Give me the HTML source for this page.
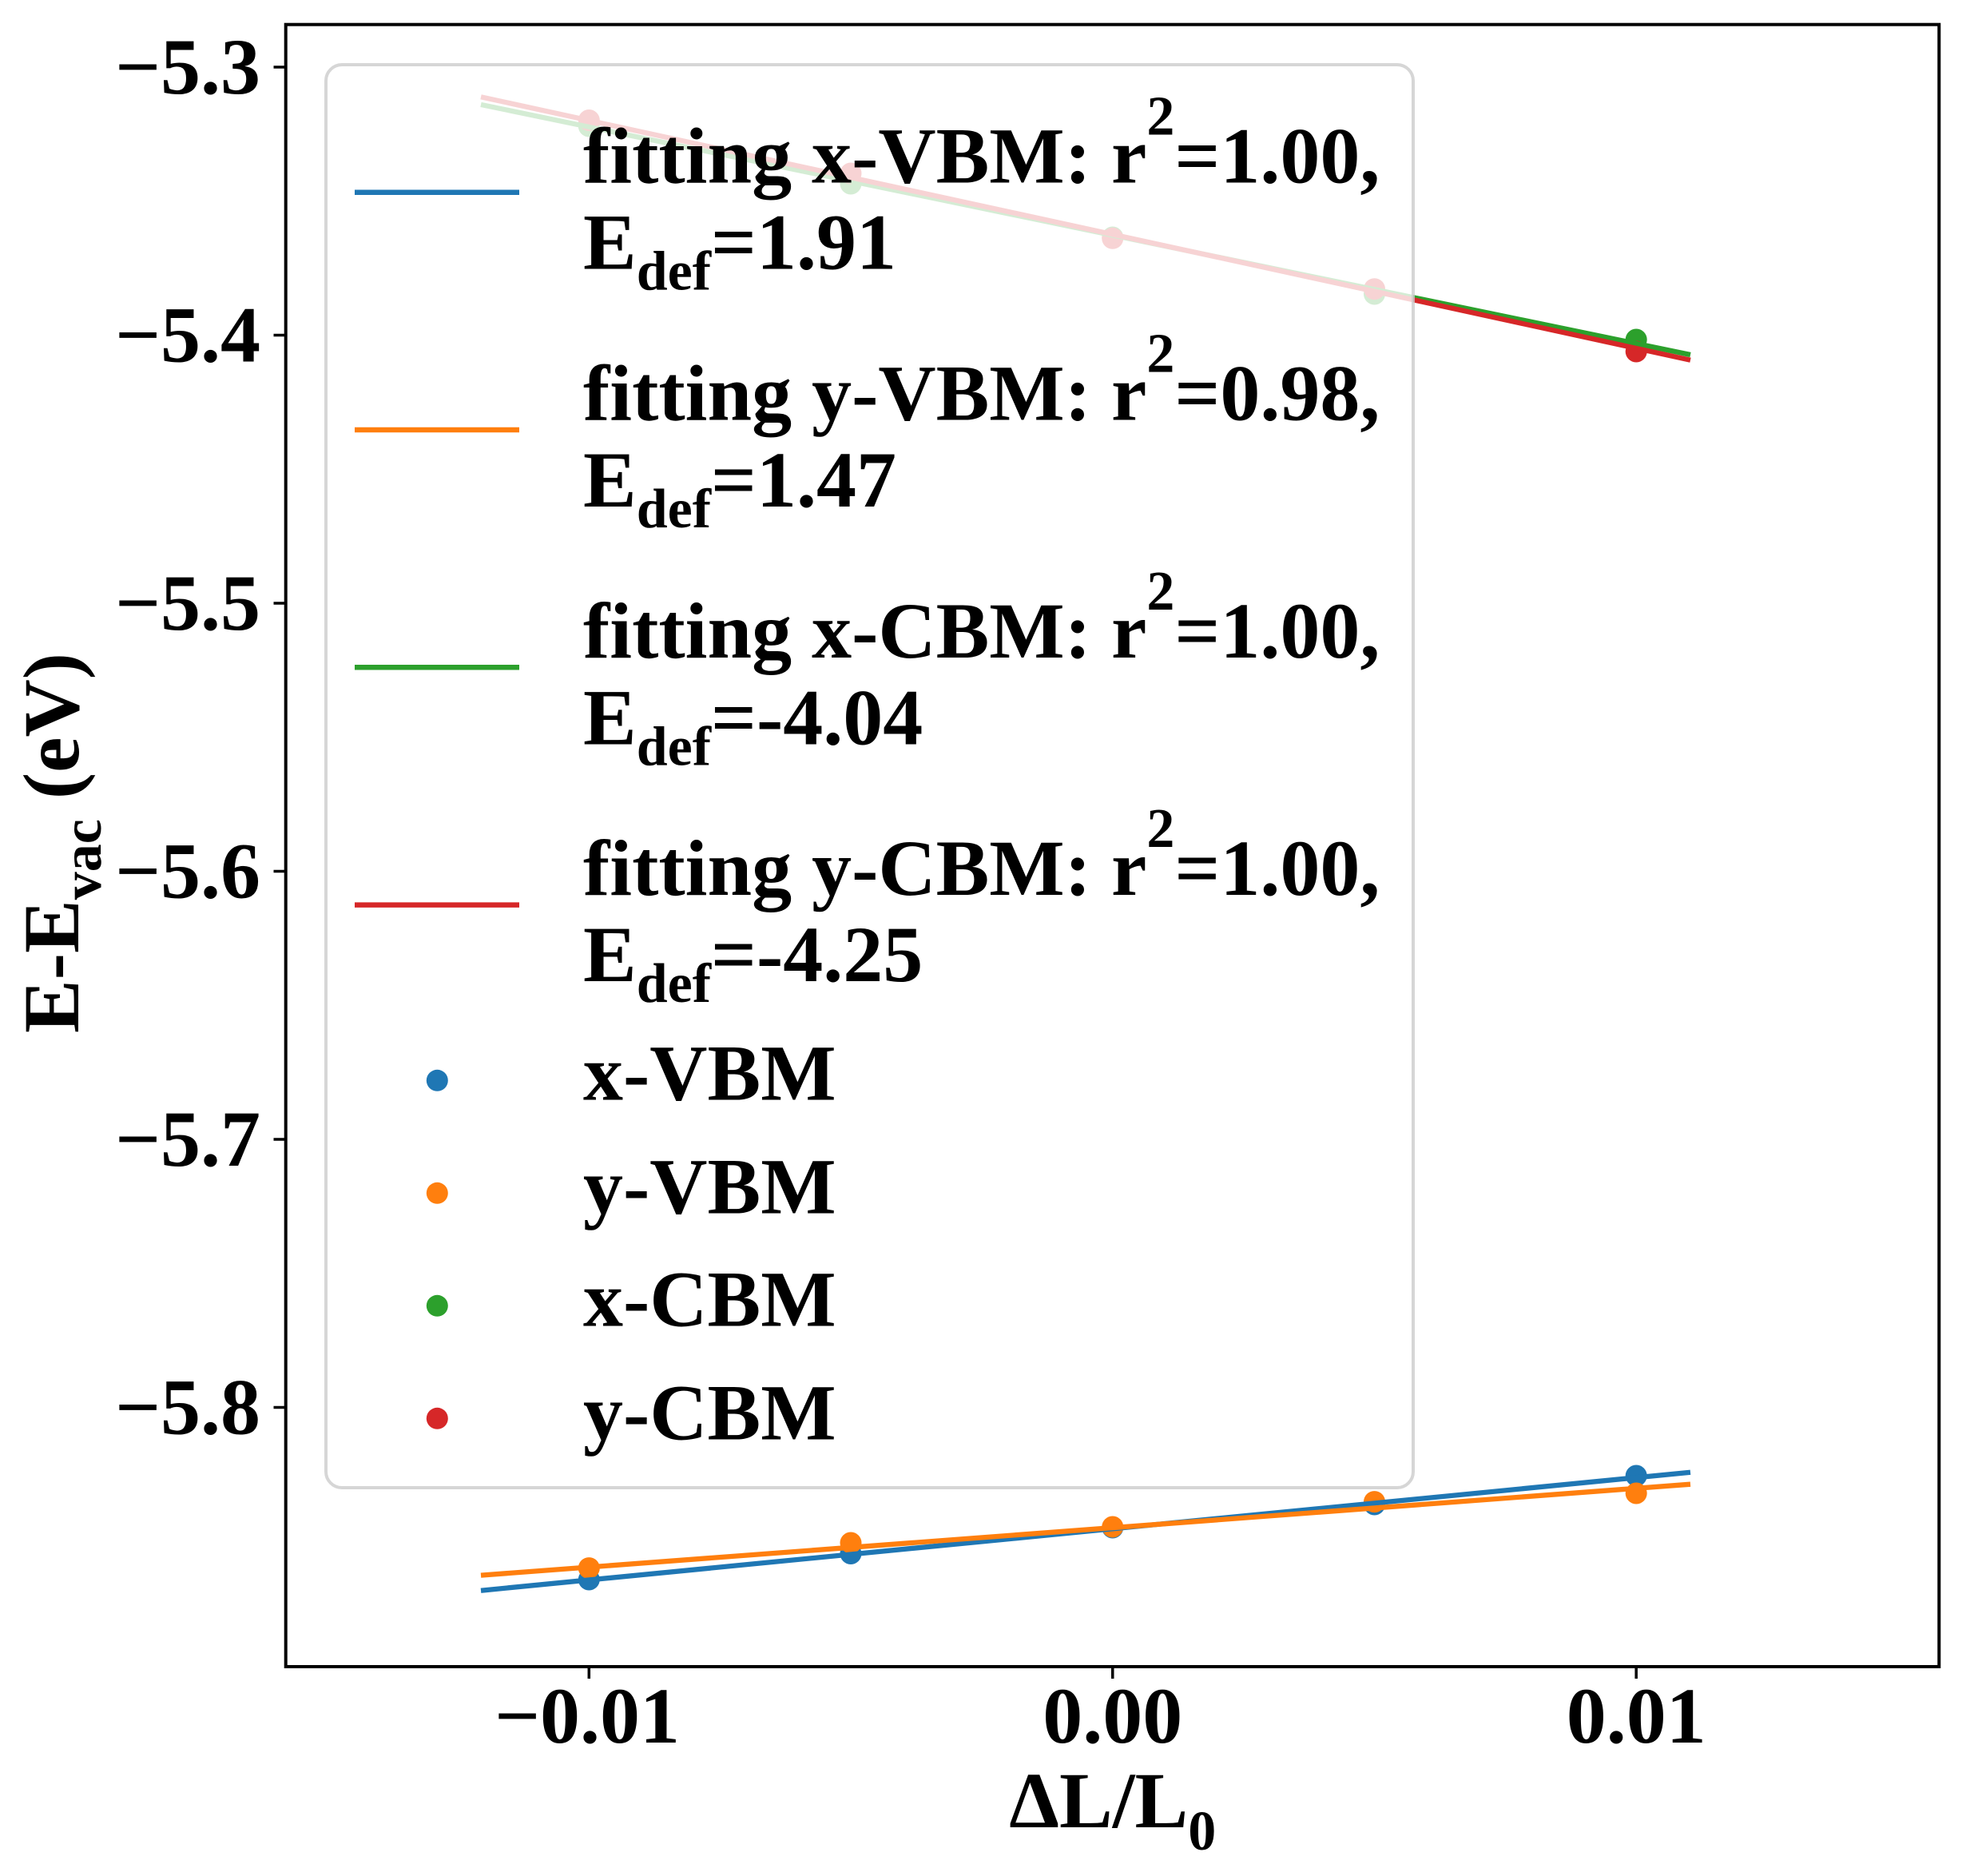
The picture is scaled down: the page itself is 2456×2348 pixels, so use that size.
<!DOCTYPE html>
<html>
<head>
<meta charset="utf-8">
<style>
  html, body { margin: 0; padding: 0; background: #ffffff; }
  svg { display: block; }
  text { font-family: "Liberation Serif", "Times New Roman", serif; font-weight: bold; fill: #000; }
</style>
</head>
<body>
<svg width="2456" height="2348" viewBox="0 0 2456 2348" xmlns="http://www.w3.org/2000/svg">
  <rect x="0" y="0" width="2456" height="2348" fill="#ffffff"/>

  <!-- scatter points (zorder 1) -->
  <g>
    <g fill="#1f77b4">
      <circle cx="737.3" cy="1977" r="13.5"/>
      <circle cx="1065" cy="1944.5" r="13.5"/>
      <circle cx="1392.75" cy="1912" r="13.5"/>
      <circle cx="1720.5" cy="1883" r="13.5"/>
      <circle cx="2048.2" cy="1847" r="13.5"/>
    </g>
    <g fill="#ff7f0e">
      <circle cx="737.3" cy="1962.6" r="13.5"/>
      <circle cx="1065" cy="1931" r="13.5"/>
      <circle cx="1392.75" cy="1911" r="13.5"/>
      <circle cx="1720.5" cy="1879.6" r="13.5"/>
      <circle cx="2048.2" cy="1869" r="13.5"/>
    </g>
    <g fill="#2ca02c">
      <circle cx="737.3" cy="158" r="13.5"/>
      <circle cx="1065" cy="230" r="13.5"/>
      <circle cx="1392.75" cy="297" r="13.5"/>
      <circle cx="1720.5" cy="368" r="13.5"/>
      <circle cx="2048.2" cy="425" r="13.5"/>
    </g>
    <g fill="#d62728">
      <circle cx="737.3" cy="150.5" r="13.5"/>
      <circle cx="1065" cy="217" r="13.5"/>
      <circle cx="1392.75" cy="298.3" r="13.5"/>
      <circle cx="1720.5" cy="361.7" r="13.5"/>
      <circle cx="2048.2" cy="440" r="13.5"/>
    </g>
  </g>

  <!-- fit lines (zorder 2) -->
  <g stroke-width="6.3" stroke-linecap="butt" fill="none">
    <line x1="602" y1="1990.7" x2="2116" y2="1842.7" stroke="#1f77b4"/>
    <line x1="602" y1="1971.6" x2="2116" y2="1857.7" stroke="#ff7f0e"/>
    <line x1="602" y1="130.9" x2="2116" y2="444" stroke="#2ca02c"/>
    <line x1="602" y1="121.3" x2="2116" y2="450.7" stroke="#d62728"/>
  </g>

  <!-- axes spines -->
  <rect x="357.7" y="30.7" width="2069.6" height="2055.3" fill="none" stroke="#000" stroke-width="4"/>

  <!-- y ticks -->
  <g stroke="#000" stroke-width="3.5">
    <line x1="342.5" y1="84" x2="357.7" y2="84"/>
    <line x1="342.5" y1="419.5" x2="357.7" y2="419.5"/>
    <line x1="342.5" y1="755" x2="357.7" y2="755"/>
    <line x1="342.5" y1="1090.5" x2="357.7" y2="1090.5"/>
    <line x1="342.5" y1="1426" x2="357.7" y2="1426"/>
    <line x1="342.5" y1="1761.5" x2="357.7" y2="1761.5"/>
  </g>
  <g font-size="100" text-anchor="end">
    <text x="326" y="117">−5.3</text>
    <text x="326" y="452.5">−5.4</text>
    <text x="326" y="788">−5.5</text>
    <text x="326" y="1123.5">−5.6</text>
    <text x="326" y="1459">−5.7</text>
    <text x="326" y="1794.5">−5.8</text>
  </g>

  <!-- x ticks -->
  <g stroke="#000" stroke-width="3.5">
    <line x1="737.3" y1="2086" x2="737.3" y2="2101"/>
    <line x1="1392.75" y1="2086" x2="1392.75" y2="2101"/>
    <line x1="2048.2" y1="2086" x2="2048.2" y2="2101"/>
  </g>
  <g font-size="100" text-anchor="middle">
    <text x="735" y="2181">−0.01</text>
    <text x="1392.75" y="2181">0.00</text>
    <text x="2048.2" y="2181">0.01</text>
  </g>

  <!-- axis labels -->
  <text x="1392.75" y="2287" font-size="100" text-anchor="middle">ΔL/L<tspan font-size="70" dy="28">0</tspan></text>
  <text transform="translate(98,1055) rotate(-90)" font-size="100" text-anchor="middle">E-E<tspan font-size="70" dy="28">vac</tspan><tspan dy="-28"> (eV)</tspan></text>

  <!-- legend -->
  <rect x="408" y="81" width="1361" height="1781" rx="20" ry="20" fill="#ffffff" fill-opacity="0.8" stroke="#cccccc" stroke-opacity="0.8" stroke-width="4"/>

  <g stroke-width="6.5">
    <line x1="444" y1="240.7" x2="650" y2="240.7" stroke="#1f77b4"/>
    <line x1="444" y1="538" x2="650" y2="538" stroke="#ff7f0e"/>
    <line x1="444" y1="835.3" x2="650" y2="835.3" stroke="#2ca02c"/>
    <line x1="444" y1="1132.6" x2="650" y2="1132.6" stroke="#d62728"/>
  </g>

  <g font-size="100">
    <text x="730" y="228.3">fitting x-VBM: r<tspan font-size="70" dy="-60">2</tspan><tspan dy="60">=1.00,</tspan></text>
    <text x="730" y="336.7">E<tspan font-size="70" dy="26">def</tspan><tspan dy="-26">=1.91</tspan></text>

    <text x="730" y="525.6">fitting y-VBM: r<tspan font-size="70" dy="-60">2</tspan><tspan dy="60">=0.98,</tspan></text>
    <text x="730" y="634">E<tspan font-size="70" dy="26">def</tspan><tspan dy="-26">=1.47</tspan></text>

    <text x="730" y="822.9">fitting x-CBM: r<tspan font-size="70" dy="-60">2</tspan><tspan dy="60">=1.00,</tspan></text>
    <text x="730" y="931.3">E<tspan font-size="70" dy="26">def</tspan><tspan dy="-26">=-4.04</tspan></text>

    <text x="730" y="1120.2">fitting y-CBM: r<tspan font-size="70" dy="-60">2</tspan><tspan dy="60">=1.00,</tspan></text>
    <text x="730" y="1228">E<tspan font-size="70" dy="26">def</tspan><tspan dy="-26">=-4.25</tspan></text>
  </g>

  <g>
    <circle cx="547.3" cy="1352.3" r="13.5" fill="#1f77b4"/>
    <circle cx="547.3" cy="1493.3" r="13.5" fill="#ff7f0e"/>
    <circle cx="547.3" cy="1634.3" r="13.5" fill="#2ca02c"/>
    <circle cx="547.3" cy="1775.3" r="13.5" fill="#d62728"/>
  </g>
  <g font-size="100">
    <text x="730" y="1376.7">x-VBM</text>
    <text x="730" y="1518.3">y-VBM</text>
    <text x="730" y="1659.3">x-CBM</text>
    <text x="730" y="1801.7">y-CBM</text>
  </g>
</svg>
</body>
</html>
